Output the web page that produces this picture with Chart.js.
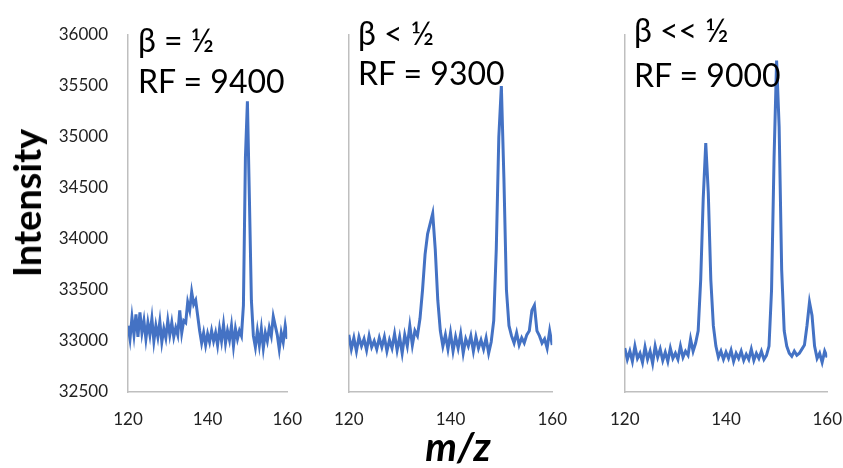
<!DOCTYPE html>
<html>
<head>
<meta charset="utf-8">
<script src="https://cdn.jsdelivr.net/npm/chart.js@4.4.1/dist/chart.umd.min.js"></script>
<style>
  body { margin: 0; background: #fff; }
  #wrap { position: relative; width: 843px; height: 468px; overflow: hidden; font-family: Lato, "Open Sans", sans-serif; }
  .panel { position: absolute; top: 0; height: 468px; }
  .note { position: absolute; font-size: 32px; line-height: 32px; color: #000; white-space: nowrap; }
  #ylab { position: absolute; left: 26px; top: 203px; font-size: 38px; font-weight: bold; transform: translate(-50%, -50%) rotate(-90deg); white-space: nowrap; }
  #xlab { position: absolute; left: 458px; top: 446px; font-size: 40px; font-weight: bold; font-style: italic; transform: translate(-50%, -50%); white-space: nowrap; }
</style>
</head>
<body>
<div id="wrap">
  <div class="panel" style="left:0;width:319px"><canvas id="c1"></canvas></div>
  <div class="panel" style="left:317px;width:267px"><canvas id="c2"></canvas></div>
  <div class="panel" style="left:593px;width:266px"><canvas id="c3"></canvas></div>
  <div class="note" style="left:138px;top:24px">β = ½</div>
  <div class="note" style="left:138px;top:65px">RF = 9400</div>
  <div class="note" style="left:358px;top:17px">β &lt; ½</div>
  <div class="note" style="left:358px;top:57px">RF = 9300</div>
  <div class="note" style="left:634px;top:14px">β &lt;&lt; ½</div>
  <div class="note" style="left:634px;top:59px">RF = 9000</div>
  <div id="ylab">Intensity</div>
  <div id="xlab">m/z</div>
</div>
<script>
// ===== DATA =====
const mz = [
  120, 120.5, 121, 121.5, 122, 122.5, 123, 123.5, 124, 124.5,
  125, 125.5, 126, 126.5, 127, 127.5, 128, 128.5, 129, 129.5,
  130, 130.5, 131, 131.5, 132, 132.5, 133, 133.5, 134, 134.5,
  135, 135.5, 136, 136.5, 137, 137.5, 138, 138.5, 139, 139.5,
  140, 140.5, 141, 141.5, 142, 142.5, 143, 143.5, 144, 144.5,
  145, 145.5, 146, 146.5, 147, 147.5, 148, 148.5, 149, 149.5,
  150, 150.5, 151, 151.5, 152, 152.5, 153, 153.5, 154, 154.5,
  155, 155.5, 156, 156.5, 157, 157.5, 158, 158.5, 159, 159.5,
  160
];

// beta = 1/2, RF = 9400
const intensityHalf = [
  33150, 33020, 33230, 33060, 33260, 33040, 33280, 33080, 33200, 33020,
  33180, 33060, 33220, 33000, 33150, 33040, 33190, 32990, 33120, 33030,
  33200, 33060, 33180, 33040, 33130, 33060, 33300, 33080, 33200, 33180,
  33380, 33300, 33480, 33360, 33400, 33250, 33100, 32980, 33080, 32960,
  33070, 32990, 33100, 33000, 33080, 32960, 33120, 33000, 33160, 32980,
  33100, 33010, 33150, 32950, 33120, 33020, 33100, 33050, 33350, 34800,
  35350, 34400, 33400, 33050, 32940, 33100, 32960, 33120, 32930, 33080,
  33000, 33130, 33050, 33240, 33150, 33060, 32920, 33080, 32990, 33150,
  33020
];

// beta < 1/2, RF = 9300
const intensityLess = [
  33060, 32920, 33030, 32900, 33040, 32950, 33020, 32910, 33050, 32940,
  33000, 32920, 33030, 32940, 33040, 32900, 33010, 32930, 33070, 32910,
  33040, 32880, 33060, 32950, 33150, 32960, 33100, 33050, 33220, 33500,
  33850, 34050, 34150, 34250, 33900, 33400, 33100, 32950, 33060, 32920,
  33080, 32900, 33040, 32930, 33070, 32880, 33020, 32950, 33050, 32900,
  33040, 32930, 33010, 32920, 33030, 32880, 32990, 33200, 33900, 35000,
  35500, 34600, 33500, 33150, 33050, 32980, 33080, 32960, 33030, 32980,
  33060, 33100, 33300, 33350, 33100, 33050, 32980, 33020, 32930, 33100,
  32960
];

// beta << 1/2, RF = 9000
const intensityMuchLess = [
  32930, 32820, 32900, 32800, 32950, 32830, 32880, 32790, 32940, 32820,
  32900, 32780, 32950, 32840, 32920, 32810, 32890, 32800, 32930, 32830,
  32880, 32820, 32950, 32840, 32900, 32860, 33020, 32900, 32980, 33100,
  33600, 34400, 34940, 34450, 33600, 33150, 32950, 32840, 32900, 32820,
  32890, 32830, 32910, 32800, 32880, 32830, 32900, 32810, 32870, 32820,
  32920, 32810, 32880, 32830, 32900, 32820, 32860, 32950, 33500, 34800,
  35750, 35100, 33700, 33100, 32950, 32880, 32850, 32900, 32860, 32880,
  32920, 32960, 33150, 33380, 33250, 32950, 32830, 32880, 32790, 32900,
  32840
];

const yTicks = [32500, 33000, 33500, 34000, 34500, 35000, 35500, 36000];
const xTicks = [120, 140, 160];

// ===== CHARTS =====
const tickFont = { family: "Lato, 'Open Sans', sans-serif", size: 17 };

function makePanel(id, values, showY, axisWidth) {
  return new Chart(document.getElementById(id), {
    type: "line",
    data: {
      datasets: [{
        data: mz.map((m, i) => ({ x: m, y: values[i] })),
        borderColor: "#4472C4",
        borderWidth: 3,
        pointRadius: 0,
        tension: 0
      }]
    },
    options: {
      responsive: true,
      maintainAspectRatio: false,
      animation: false,
      layout: { padding: { top: 35, right: 0, bottom: 0, left: 0 } },
      plugins: { legend: { display: false }, tooltip: { enabled: false } },
      scales: {
        x: {
          type: "linear",
          min: 120,
          max: 160,
          afterBuildTicks: (s) => { s.ticks = xTicks.map(v => ({ value: v })); },
          afterFit: (s) => { s.height = 76; },
          grid: { display: false, drawTicks: false },
          border: { display: true, color: "#BFBFBF", width: 1.5 },
          ticks: { font: tickFont, color: "#222", padding: 17, maxRotation: 0 }
        },
        y: {
          min: 32500,
          max: 36000,
          afterBuildTicks: (s) => { s.ticks = yTicks.map(v => ({ value: v })); },
          afterFit: (s) => { s.width = axisWidth; },
          grid: { display: false, drawTicks: false },
          border: { display: true, color: "#BFBFBF", width: 1.5 },
          ticks: { display: showY, font: tickFont, color: "#222", padding: 20, callback: (v) => String(v) }
        }
      }
    }
  });
}

makePanel("c1", intensityHalf, true, 128);
makePanel("c2", intensityLess, false, 20);
makePanel("c3", intensityMuchLess, false, 20);
</script>
</body>
</html>
